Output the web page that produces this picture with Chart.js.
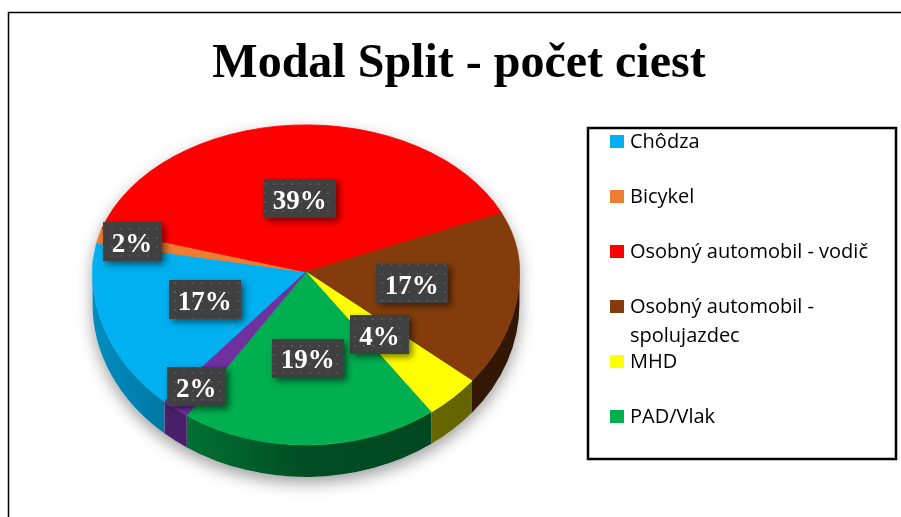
<!DOCTYPE html>
<html lang="sk">
<head>
<meta charset="UTF-8">
<title>Modal Split - počet ciest</title>
<script src="https://cdn.jsdelivr.net/npm/chart.js"></script>
<style>
  html, body { margin: 0; padding: 0; background: #fff; }
  #wrap { width: 901px; height: 517px; }
</style>
</head>
<body>
<div id="wrap"><canvas id="modalChart" width="901" height="517"></canvas></div>
<script>
// data (shares in %, labels show the rounded value)
const categories = ['Chôdza', 'Bicykel', 'Osobný automobil - vodič', 'Osobný automobil - spolujazdec', 'MHD', 'PAD/Vlak', 'Iné']
const shares = [16.6, 1.6, 38.7, 17.4, 4.2, 19.4, 2.1]
const sliceColors = ['#00B0F0', '#ED7D31', '#FF0000', '#843C0C', '#FFFF00', '#00B050', '#7030A0']
const legendCount = 6 // the purple entry is cut off in the original legend
const chartTitle = 'Modal Split - počet ciest'

// fake 3d: far half and near half are squashed differently (perspective-ish)
const TILT_BACK = 0.689
const TILT_FRONT = 0.81
const DEPTH = 32

function shade(hex, f) {
  const n = parseInt(hex.slice(1), 16)
  const r = Math.round(((n >> 16) & 255) * f)
  const g = Math.round(((n >> 8) & 255) * f)
  const b = Math.round((n & 255) * f)
  return `rgb(${r},${g},${b})`
}

function dotPattern(ctx) {
  const c = document.createElement('canvas')
  c.width = 9
  c.height = 9
  const p = c.getContext('2d')
  p.fillStyle = '#404040'
  p.fillRect(0, 0, 9, 9)
  p.fillStyle = '#555555'
  p.fillRect(3, 3, 2, 2)
  return ctx.createPattern(c, 'repeat')
}

const pie3d = {
  id: 'pie3d',
  beforeDatasetsDraw(chart) {
    const ctx = chart.ctx
    const meta = chart.getDatasetMeta(0)
    const arcs = meta.data
    const { x: cx, y: cy, outerRadius: r } = arcs[0]
    const ryB = r * TILT_BACK
    const ryF = r * TILT_FRONT

    // soft drop shadow under the whole cake
    ctx.save()
    ctx.shadowColor = 'rgba(0,0,0,0.38)'
    ctx.shadowBlur = 16
    ctx.shadowOffsetY = 6
    ctx.fillStyle = '#fff'
    ctx.beginPath()
    ctx.ellipse(cx, cy, r, ryB, 0, Math.PI, 2 * Math.PI)
    ctx.ellipse(cx, cy + DEPTH, r, ryF, 0, 0, Math.PI)
    ctx.closePath()
    ctx.fill()
    ctx.restore()

    // side walls, only the front half is visible
    arcs.forEach((arc, i) => {
      const base = sliceColors[i]
      const grad = ctx.createLinearGradient(cx - r, 0, cx + r, 0)
      grad.addColorStop(0, shade(base, 0.8))
      grad.addColorStop(0.25, shade(base, 0.62))
      grad.addColorStop(0.5, shade(base, 0.44))
      grad.addColorStop(1, shade(base, 0.38))
      for (const off of [-2 * Math.PI, 0, 2 * Math.PI]) {
        const a1 = Math.max(arc.startAngle, off)
        const a2 = Math.min(arc.endAngle, off + Math.PI)
        if (a2 <= a1) continue
        ctx.beginPath()
        ctx.ellipse(cx, cy, r, ryF, 0, a1, a2)
        ctx.ellipse(cx, cy + DEPTH, r, ryF, 0, a2, a1, true)
        ctx.closePath()
        ctx.fillStyle = grad
        ctx.fill()
      }
    })

    // top face, drawn by the controller twice with different squash
    const face = (k, top) => {
      ctx.save()
      ctx.beginPath()
      if (top) ctx.rect(0, 0, chart.width, cy + 0.5)
      else ctx.rect(0, cy, chart.width, chart.height - cy)
      ctx.clip()
      ctx.translate(cx, cy)
      ctx.scale(1, k)
      ctx.translate(-cx, -cy)
      meta.controller.draw()
      ctx.restore()
    }
    face(TILT_BACK, true)
    face(TILT_FRONT, false)
    return false
  },

  afterDraw(chart) {
    const ctx = chart.ctx
    const meta = chart.getDatasetMeta(0)
    const arcs = meta.data
    const { x: cx, y: cy, outerRadius: r } = arcs[0]
    const values = chart.data.datasets[0].data
    const total = values.reduce((s, v) => s + v, 0)

    // outer frame (cut off on the right and bottom)
    ctx.save()
    ctx.strokeStyle = '#000'
    ctx.lineWidth = 1.5
    ctx.beginPath()
    ctx.moveTo(8.5, chart.height)
    ctx.lineTo(8.5, 12.5)
    ctx.lineTo(chart.width, 12.5)
    ctx.stroke()
    ctx.restore()

    // title
    ctx.save()
    ctx.fillStyle = '#000'
    ctx.font = 'bold 48px "Liberation Serif", "Times New Roman", serif'
    ctx.textAlign = 'center'
    ctx.textBaseline = 'alphabetic'
    ctx.fillText(chartTitle, 459, 77)
    ctx.restore()

    // data labels
    const pattern = dotPattern(ctx)
    arcs.forEach((arc, i) => {
      const pct = Math.round(values[i] / total * 100)
      const mid = (arc.startAngle + arc.endAngle) / 2
      const f = pct < 3 ? 0.84 : 0.5
      const ux = Math.cos(mid) * r * f
      const uy = Math.sin(mid) * r * f
      const lx = cx + ux
      const ly = cy + uy * (uy < 0 ? TILT_BACK : TILT_FRONT)
      const text = pct + '%'
      ctx.save()
      ctx.font = 'bold 27px "Liberation Serif", "Times New Roman", serif'
      const w = ctx.measureText(text).width + 18
      const h = 39
      ctx.shadowColor = 'rgba(0,0,0,0.55)'
      ctx.shadowBlur = 7
      ctx.shadowOffsetX = 3
      ctx.shadowOffsetY = 3
      ctx.fillStyle = pattern
      ctx.fillRect(Math.round(lx - w / 2), Math.round(ly - h / 2), Math.round(w), h)
      ctx.shadowColor = 'transparent'
      ctx.fillStyle = '#fff'
      ctx.textAlign = 'center'
      ctx.textBaseline = 'alphabetic'
      ctx.fillText(text, lx, ly + 10)
      ctx.restore()
    })

    // legend box
    const L = { x: 588, y: 128, w: 308, h: 331, swatchX: 610, textX: 630, first: 148, step: 55, wrapStep: 29, maxText: 258 }
    ctx.save()
    ctx.strokeStyle = '#000'
    ctx.lineWidth = 2.5
    ctx.strokeRect(L.x, L.y, L.w, L.h)
    ctx.font = '20px "Open Sans", "Noto Sans", sans-serif'
    ctx.textAlign = 'left'
    ctx.textBaseline = 'alphabetic'
    for (let i = 0; i < legendCount; i++) {
      const base = L.first + L.step * i
      ctx.fillStyle = sliceColors[i]
      ctx.fillRect(L.swatchX, base - 13, 14, 13)
      ctx.fillStyle = '#000'
      // simple word wrap
      const words = chart.data.labels[i].split(' ')
      let line = ''
      let y = base
      words.forEach((wd) => {
        const test = line ? line + ' ' + wd : wd
        if (line && ctx.measureText(test).width > L.maxText) {
          ctx.fillText(line, L.textX, y)
          line = wd
          y += L.wrapStep
        } else {
          line = test
        }
      })
      ctx.fillText(line, L.textX, y)
    }
    ctx.restore()
  }
}

new Chart(document.getElementById('modalChart'), {
  type: 'pie',
  data: {
    labels: categories,
    datasets: [{
      data: shares,
      backgroundColor: sliceColors,
      borderColor: sliceColors,
      borderWidth: 1
    }]
  },
  options: {
    responsive: false,
    animation: false,
    events: [],
    rotation: 221.5,
    layout: { padding: { left: 92, right: 381, top: 58, bottom: 31 } },
    plugins: {
      legend: { display: false },
      title: { display: false },
      tooltip: { enabled: false }
    }
  },
  plugins: [pie3d]
})
</script>
</body>
</html>
